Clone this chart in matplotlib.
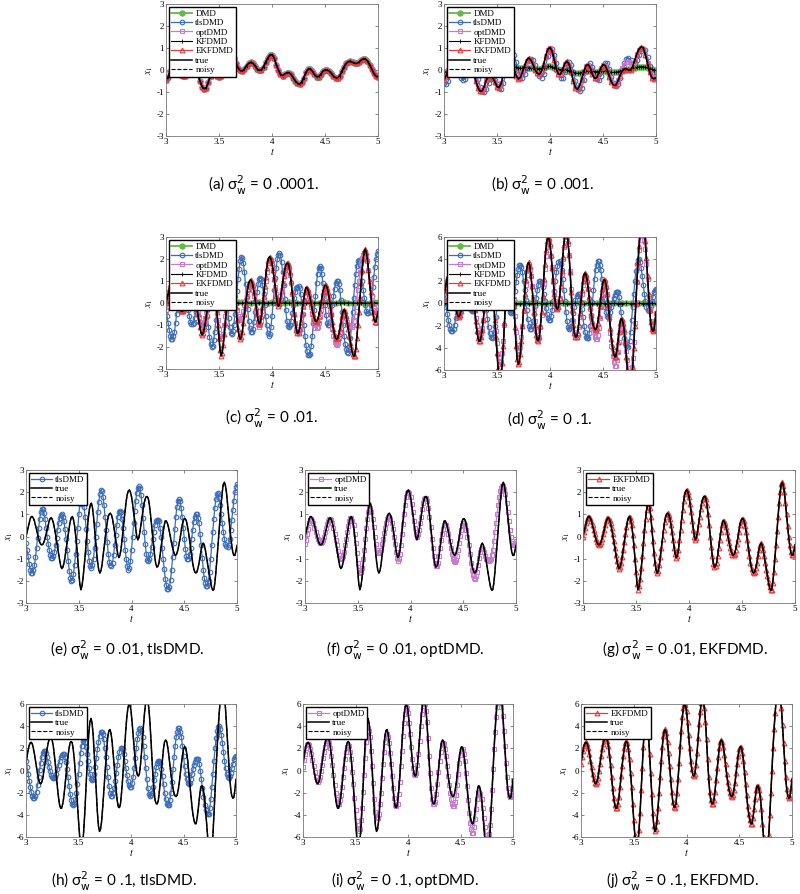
import numpy as np
import matplotlib
matplotlib.use("Agg")
import matplotlib.pyplot as plt

W, H = 800, 894
fig = plt.figure(figsize=(W / 100, H / 100), dpi=100)

# time grids of the read-off samples
t = np.round(np.arange(3.0, 5.0001, 0.02), 2)
t_fine = np.round(np.arange(3.0, 5.0001, 0.01), 2)
t_flat = np.round(np.arange(3.0, 5.0001, 0.04), 2)

# sigma_w^2 = 0.0001  (on t)
true_a = [-0.45, -0.3, -0.05, 0.08, 0.05, -0.05, -0.15, -0.22, -0.25, -0.25,
          -0.2, -0.05, 0.1, 0.15, 0.05, -0.2, -0.5, -0.75, -0.85, -0.8,
          -0.55, -0.25, -0.12, -0.15, -0.25, -0.3, -0.25, -0.05, 0.2, 0.45,
          0.6, 0.65, 0.55, 0.3, 0.1, -0.02, -0.05, 0.05, 0.2, 0.3,
          0.35, 0.3, 0.2, 0.05, -0.02, 0.0, 0.15, 0.35, 0.55, 0.68,
          0.7, 0.55, 0.25, 0.0, -0.2, -0.25, -0.18, -0.12, -0.12, -0.2,
          -0.35, -0.5, -0.6, -0.65, -0.55, -0.35, -0.1, 0.03, 0.05, -0.05,
          -0.2, -0.3, -0.3, -0.2, -0.05, 0.0, 0.0, -0.05, -0.15, -0.28,
          -0.35, -0.35, -0.25, -0.05, 0.15, 0.3, 0.38, 0.4, 0.35, 0.3,
          0.3, 0.35, 0.45, 0.5, 0.5, 0.42, 0.25, 0.05, -0.15, -0.28,
          -0.3]

# sigma_w^2 = 0.001  (on t)
true_b = [-0.45, -0.25, 0.0, 0.1, 0.05, -0.05, -0.15, -0.2, -0.2, -0.1,
          0.05, 0.15, 0.2, 0.1, -0.15, -0.5, -0.8, -0.97, -0.95, -0.75,
          -0.45, -0.3, -0.28, -0.35, -0.55, -0.75, -0.8, -0.6, -0.2, 0.2,
          0.45, 0.5, 0.35, 0.05, -0.25, -0.4, -0.35, -0.1, 0.2, 0.45,
          0.55, 0.45, 0.25, 0.0, -0.15, -0.2, -0.05, 0.25, 0.65, 0.95,
          1.02, 0.85, 0.45, 0.05, -0.2, -0.2, 0.05, 0.3, 0.4, 0.25,
          -0.1, -0.5, -0.8, -0.88, -0.7, -0.4, -0.05, 0.2, 0.25, 0.1,
          -0.2, -0.38, -0.35, -0.15, 0.1, 0.25, 0.2, 0.0, -0.3, -0.55,
          -0.7, -0.7, -0.5, -0.25, -0.05, 0.05, 0.05, 0.0, 0.0, 0.15,
          0.45, 0.75, 0.95, 1.05, 1.0, 0.7, 0.3, -0.1, -0.35, -0.4,
          -0.35]
tls_b = [-0.6, -0.65, -0.5, -0.2, 0.0, 0.05, -0.05, -0.2, -0.35, -0.45,
         -0.4, -0.2, 0.05, 0.15, 0.1, -0.1, -0.4, -0.75, -0.95, -1.0,
         -0.85, -0.6, -0.4, -0.35, -0.45, -0.65, -0.82, -0.85, -0.6, -0.2,
         0.3, 0.7, 0.85, 0.7, 0.35, 0.0, -0.3, -0.35, -0.2, 0.1,
         0.4, 0.5, 0.45, 0.25, -0.05, -0.25, -0.35, -0.2, 0.2, 0.65,
         0.9, 0.95, 0.7, 0.3, -0.1, -0.35, -0.35, -0.1, 0.2, 0.35,
         0.25, -0.1, -0.5, -0.85, -0.95, -0.8, -0.45, -0.05, 0.25, 0.3,
         0.15, -0.15, -0.4, -0.45, -0.25, 0.05, 0.3, 0.3, 0.05, -0.3,
         -0.6, -0.72, -0.65, -0.35, 0.0, 0.3, 0.5, 0.55, 0.45, 0.3,
         0.3, 0.45, 0.7, 0.85, 0.95, 0.9, 0.6, 0.2, -0.15, -0.3,
         -0.25]
opt_b = [-0.4, -0.2, 0.0, 0.1, 0.05, -0.05, -0.15, -0.22, -0.22, -0.12,
         0.03, 0.13, 0.18, 0.1, -0.15, -0.48, -0.78, -0.95, -0.93, -0.75,
         -0.47, -0.32, -0.3, -0.37, -0.55, -0.73, -0.78, -0.6, -0.22, 0.18,
         0.43, 0.48, 0.35, 0.05, -0.23, -0.38, -0.33, -0.1, 0.18, 0.42,
         0.52, 0.43, 0.23, 0.0, -0.15, -0.2, -0.05, 0.25, 0.62, 0.92,
         0.98, 0.82, 0.45, 0.05, -0.18, -0.2, 0.05, 0.28, 0.38, 0.25,
         -0.1, -0.48, -0.78, -0.86, -0.7, -0.4, -0.07, 0.18, 0.23, 0.1,
         -0.18, -0.36, -0.35, -0.15, 0.08, 0.22, 0.18, 0.0, -0.28, -0.52,
         -0.66, -0.65, -0.45, -0.15, 0.1, 0.25, 0.35, 0.38, 0.3, 0.25,
         0.45, 0.72, 0.92, 1.0, 0.97, 0.7, 0.3, -0.08, -0.32, -0.38,
         -0.33]
dmd_b = [-0.1, -0.08, -0.05, -0.03, -0.03, -0.05, -0.07, -0.08, -0.08, -0.07,
         -0.05, -0.05, -0.07, -0.1, -0.14, -0.18, -0.2, -0.21, -0.2, -0.18,
         -0.16, -0.15, -0.15, -0.15, -0.14, -0.12, -0.08, -0.03, 0.03, 0.08,
         0.12, 0.15, 0.15, 0.14, 0.12, 0.1, 0.08, 0.08, 0.09, 0.1,
         0.1, 0.1, 0.08, 0.06, 0.05, 0.06, 0.08, 0.11, 0.14, 0.16,
         0.16, 0.14, 0.1, 0.06, 0.03, 0.02, 0.02, 0.02, 0.0, -0.03,
         -0.07, -0.11, -0.14, -0.15, -0.14, -0.11, -0.08, -0.06, -0.05, -0.05,
         -0.06, -0.07, -0.07, -0.06, -0.05, -0.05, -0.06, -0.08, -0.1, -0.11,
         -0.11, -0.1, -0.08, -0.05, -0.02, 0.0, 0.02, 0.03, 0.05, 0.07,
         0.1, 0.12, 0.14, 0.15, 0.15, 0.13, 0.1, 0.06, 0.03, 0.0,
         -0.02]

# sigma_w^2 = 0.01  (on t_fine)
true_c = [0.0, 0.2, 0.4, 0.62, 0.8, 0.9, 0.9, 0.82, 0.7, 0.5,
          0.3, 0.1, -0.1, -0.26, -0.35, -0.38, -0.35, -0.25, -0.1, 0.1,
          0.3, 0.52, 0.7, 0.82, 0.85, 0.76, 0.6, 0.37, 0.1, -0.2,
          -0.5, -0.82, -1.1, -1.35, -1.45, -1.38, -1.2, -0.92, -0.6, -0.25,
          0.1, 0.42, 0.7, 0.86, 0.9, 0.76, 0.5, 0.08, -0.4, -1.0,
          -1.6, -2.15, -2.4, -2.25, -1.9, -1.42, -0.9, -0.3, 0.3, 0.8,
          1.2, 1.45, 1.5, 1.3, 0.9, 0.35, -0.2, -0.75, -1.2, -1.52,
          -1.65, -1.55, -1.3, -0.92, -0.5, -0.1, 0.3, 0.65, 0.9, 1.02,
          1.05, 0.97, 0.8, 0.52, 0.2, -0.16, -0.5, -0.8, -0.95, -0.86,
          -0.6, -0.18, 0.3, 0.76, 1.2, 1.6, 1.9, 2.06, 2.1, 2.0,
          1.8, 1.48, 1.1, 0.68, 0.3, 0.0, -0.15, -0.05, 0.2, 0.55,
          0.9, 1.22, 1.5, 1.7, 1.8, 1.8, 1.7, 1.4, 1.0, 0.52,
          0.0, -0.48, -0.9, -1.22, -1.38, -1.35, -1.2, -0.88, -0.5, -0.14,
          0.2, 0.5, 0.7, 0.7, 0.6, 0.42, 0.2, -0.05, -0.3, -0.52,
          -0.7, -0.82, -0.85, -0.77, -0.6, -0.36, -0.1, 0.2, 0.5, 0.7,
          0.8, 0.8, 0.7, 0.48, 0.2, -0.15, -0.5, -0.86, -1.2, -1.45,
          -1.6, -1.65, -1.6, -1.43, -1.2, -0.9, -0.6, -0.38, -0.3, -0.38,
          -0.6, -0.9, -1.2, -1.5, -1.8, -2.07, -2.3, -2.42, -2.4, -2.1,
          -1.6, -1.02, -0.4, 0.25, 0.9, 1.5, 2.0, 2.35, 2.45, 2.3,
          2.0, 1.52, 1.0, 0.48, 0.0, -0.4, -0.7, -0.85, -0.85, -0.65,
          -0.4]
tls_c = [-0.3, -0.6, -0.9, -1.22, -1.5, -1.65, -1.65, -1.52, -1.3, -0.93,
         -0.5, -0.05, 0.4, 0.8, 1.1, 1.25, 1.25, 1.08, 0.8, 0.4,
         0.0, -0.32, -0.6, -0.85, -0.97, -0.97, -0.9, -0.68, -0.4, -0.05,
         0.3, 0.6, 0.85, 0.98, 1.0, 0.9, 0.7, 0.32, -0.1, -0.6,
         -1.1, -1.55, -1.85, -2.0, -1.95, -1.7, -1.3, -0.78, -0.2, 0.4,
         1.0, 1.48, 1.8, 1.85, 1.7, 1.35, 0.9, 0.35, -0.2, -0.7,
         -1.1, -1.35, -1.4, -1.28, -1.0, -0.52, 0.0, 0.56, 1.1, 1.56,
         1.9, 2.08, 2.05, 1.8, 1.4, 0.87, 0.3, -0.27, -0.8, -1.15,
         -1.3, -1.32, -1.2, -0.85, -0.4, 0.06, 0.5, 0.88, 1.1, 1.15,
         1.1, 0.8, 0.4, -0.1, -0.6, -1.02, -1.35, -1.5, -1.42, -1.1,
         -0.6, 0.0, 0.6, 1.15, 1.6, 1.98, 2.2, 2.27, 2.2, 1.88,
         1.4, 0.82, 0.2, -0.34, -0.8, -1.05, -1.1, -1.0, -0.8, -0.46,
         -0.1, 0.22, 0.5, 0.68, 0.75, 0.76, 0.7, 0.4, 0.0, -0.5,
         -1.0, -1.48, -1.9, -2.2, -2.35, -2.38, -2.3, -1.95, -1.5, -0.92,
         -0.3, 0.32, 0.9, 1.32, 1.6, 1.68, 1.6, 1.3, 0.9, 0.4,
         -0.1, -0.55, -0.9, -1.02, -1.0, -0.8, -0.5, -0.1, 0.3, 0.65,
         0.9, 1.0, 1.0, 0.85, 0.6, 0.12, -0.4, -0.98, -1.5, -1.88,
         -2.1, -2.23, -2.25, -2.0, -1.6, -1.02, -0.4, 0.22, 0.8, 1.3,
         1.7, 1.9, 1.95, 1.72, 1.4, 1.0, 0.6, 0.22, -0.1, -0.35,
         -0.45, -0.47, -0.4, -0.1, 0.3, 0.75, 1.2, 1.62, 2.0, 2.22,
         2.35]
opt_c = [-0.35, -0.15, 0.1, 0.36, 0.6, 0.75, 0.8, 0.72, 0.6, 0.4,
         0.2, 0.03, -0.1, -0.22, -0.3, -0.3, -0.25, -0.14, 0.0, 0.2,
         0.4, 0.57, 0.7, 0.78, 0.8, 0.73, 0.6, 0.37, 0.1, -0.15,
         -0.4, -0.65, -0.85, -0.97, -1.0, -0.97, -0.9, -0.68, -0.4, -0.1,
         0.2, 0.47, 0.7, 0.82, 0.85, 0.72, 0.5, 0.12, -0.3, -0.76,
         -1.2, -1.52, -1.65, -1.6, -1.4, -1.02, -0.6, -0.1, 0.4, 0.8,
         1.1, 1.27, 1.3, 1.1, 0.8, 0.42, 0.0, -0.33, -0.6, -0.72,
         -0.75, -0.7, -0.6, -0.36, -0.1, 0.15, 0.4, 0.62, 0.8, 0.88,
         0.9, 0.78, 0.6, 0.32, 0.0, -0.36, -0.7, -0.95, -1.1, -1.02,
         -0.8, -0.38, 0.1, 0.55, 1.0, 1.42, 1.8, 1.96, 2.0, 1.94,
         1.8, 1.48, 1.1, 0.72, 0.4, 0.12, 0.0, 0.1, 0.3, 0.6,
         0.9, 1.22, 1.5, 1.68, 1.75, 1.72, 1.6, 1.28, 0.9, 0.42,
         -0.1, -0.52, -0.9, -1.2, -1.35, -1.32, -1.2, -0.88, -0.5, -0.18,
         0.1, 0.33, 0.5, 0.53, 0.5, 0.32, 0.1, -0.2, -0.5, -0.78,
         -1.0, -1.12, -1.15, -1.07, -0.9, -0.62, -0.3, 0.02, 0.3, 0.5,
         0.6, 0.6, 0.5, 0.28, 0.0, -0.4, -0.8, -1.18, -1.5, -1.75,
         -1.88, -1.9, -1.8, -1.58, -1.3, -0.98, -0.7, -0.55, -0.5, -0.58,
         -0.7, -0.86, -1.0, -1.08, -1.1, -1.07, -1.0, -0.83, -0.6, -0.2,
         0.2, 0.6, 1.0, 1.42, 1.8, 2.05, 2.2, 2.28, 2.3, 2.15,
         1.9, 1.52, 1.1, 0.7, 0.3, -0.03, -0.3, -0.4, -0.4, -0.32,
         -0.2]
dmd_c = [0.02, 0.03, 0.03, 0.02, 0.02, 0.03, 0.03, 0.02, 0.02, 0.03,
         0.03, 0.02, 0.02, 0.03, 0.03, 0.02, 0.02, 0.03, 0.03, 0.02,
         0.02, 0.03, 0.03, 0.02, 0.02, 0.03, 0.03, 0.02, 0.02, 0.03,
         0.03, 0.02, 0.02, 0.03, 0.03, 0.02, 0.02, 0.03, 0.03, 0.02,
         0.02, 0.03, 0.03, 0.02, 0.02, 0.03, 0.03, 0.02, 0.02, 0.03,
         0.03]
kf_c = [0.0, 0.01, 0.0, 0.0, 0.01, 0.0, 0.0, 0.01, 0.0, 0.0,
        0.01, 0.0, 0.0, 0.01, 0.0, 0.0, 0.01, 0.0, 0.0, 0.01,
        0.0, 0.0, 0.01, 0.0, 0.0, 0.01, 0.0, 0.0, 0.01, 0.0,
        0.0, 0.01, 0.0, 0.0, 0.01, 0.0, 0.0, 0.01, 0.0, 0.0,
        0.01, 0.0, 0.0, 0.01, 0.0, 0.0, 0.01, 0.0, 0.0, 0.01,
        0.0]

# sigma_w^2 = 0.1  (on t_fine)
true_d = [0.6, 1.25, 1.8, 2.25, 2.5, 2.55, 2.4, 2.0, 1.5, 0.9,
          0.3, -0.3, -0.8, -1.1, -1.2, -1.05, -0.7, -0.08, 0.6, 1.28,
          1.9, 2.42, 2.8, 3.0, 3.0, 2.7, 2.2, 1.4, 0.5, -0.55,
          -1.6, -2.45, -3.1, -3.4, -3.4, -3.0, -2.4, -1.5, -0.5, 0.45,
          1.3, 2.0, 2.5, 2.62, 2.5, 1.9, 1.0, -0.2, -1.5, -3.0,
          -4.5, -5.8, -6.8, -7.0, -6.6, -5.4, -3.8, -1.8, 0.2, 2.1,
          3.6, 4.45, 4.7, 4.2, 3.2, 1.5, -0.2, -2.1, -3.8, -5.0,
          -5.5, -5.3, -4.6, -3.4, -2.0, -0.55, 0.9, 2.1, 3.1, 3.6,
          3.7, 3.35, 2.6, 1.55, 0.4, -0.8, -1.9, -2.8, -3.3, -3.35,
          -3.0, -2.0, -0.8, 0.7, 2.2, 3.6, 4.8, 5.6, 6.0, 5.9,
          5.4, 4.4, 3.2, 2.0, 0.9, 0.1, -0.4, -0.5, -0.3, 0.5,
          1.6, 2.9, 4.2, 5.3, 6.1, 6.4, 6.3, 5.6, 4.4, 2.8,
          1.0, -0.6, -1.9, -2.7, -3.0, -3.0, -2.7, -1.9, -0.9, 0.2,
          1.2, 2.0, 2.6, 2.75, 2.6, 2.1, 1.4, 0.55, -0.3, -1.0,
          -1.6, -2.05, -2.3, -2.35, -2.2, -1.75, -1.1, -0.25, 0.6, 1.35,
          1.9, 2.15, 2.1, 1.6, 0.9, -0.1, -1.2, -2.25, -3.2, -3.95,
          -4.5, -4.8, -4.8, -4.3, -3.5, -2.6, -1.8, -1.4, -1.4, -1.8,
          -2.4, -3.5, -4.8, -6.0, -7.0, -7.5, -7.5, -6.9, -5.8, -4.0,
          -2.0, 0.0, 2.0, 3.7, 5.2, 6.3, 7.0, 7.3, 7.2, 6.6,
          5.6, 4.1, 2.5, 0.9, -0.6, -1.7, -2.3, -2.5, -2.4, -1.7,
          -0.8]
tls_d = [0.9, 0.3, -0.3, -0.92, -1.5, -1.98, -2.3, -2.48, -2.5, -2.3,
         -1.9, -1.3, -0.6, 0.08, 0.7, 1.2, 1.6, 1.8, 1.8, 1.55,
         1.2, 0.75, 0.3, -0.08, -0.4, -0.62, -0.7, -0.7, -0.6, -0.28,
         0.1, 0.52, 0.9, 1.2, 1.4, 1.5, 1.5, 1.2, 0.8, 0.12,
         -0.6, -1.38, -2.1, -2.65, -3.0, -3.1, -3.0, -2.6, -2.0, -1.2,
         -0.3, 0.7, 1.6, 2.25, 2.7, 2.8, 2.6, 2.1, 1.5, 0.85,
         0.2, -0.35, -0.8, -0.9, -0.8, -0.3, 0.3, 1.1, 1.9, 2.55,
         3.1, 3.45, 3.5, 3.25, 2.8, 2.05, 1.2, 0.3, -0.6, -1.4,
         -2.0, -2.3, -2.3, -2.0, -1.6, -0.95, -0.2, 0.52, 1.2, 1.7,
         2.0, 2.05, 1.9, 1.45, 0.9, 0.25, -0.4, -0.95, -1.3, -1.5,
         -1.5, -1.15, -0.6, 0.25, 1.1, 2.0, 2.8, 3.35, 3.7, 3.8,
         3.6, 3.0, 2.2, 1.2, 0.2, -0.75, -1.6, -2.1, -2.3, -2.25,
         -2.0, -1.5, -0.9, -0.3, 0.3, 0.7, 0.9, 0.9, 0.7, 0.15,
         -0.5, -1.25, -2.0, -2.6, -3.0, -3.15, -3.1, -2.7, -2.0, -1.0,
         0.1, 1.2, 2.2, 3.0, 3.5, 3.8, 3.8, 3.5, 3.0, 2.2,
         1.3, 0.45, -0.3, -0.8, -1.1, -1.2, -1.1, -0.75, -0.3, 0.12,
         0.5, 0.8, 1.0, 1.05, 1.0, 0.6, 0.0, -0.8, -1.6, -2.4,
         -3.1, -3.55, -3.8, -3.95, -3.9, -3.4, -2.6, -1.5, -0.3, 0.9,
         2.0, 2.9, 3.6, 3.95, 4.0, 3.7, 3.2, 2.5, 1.7, 0.9,
         0.2, -0.3, -0.6, -0.65, -0.5, -0.2, 0.2, 0.6, 1.0, 1.2,
         1.3]
opt_d = [0.3, 0.95, 1.5, 2.0, 2.3, 2.4, 2.3, 1.95, 1.5, 0.95,
         0.4, -0.15, -0.6, -0.9, -1.0, -0.88, -0.6, -0.05, 0.5, 1.12,
         1.7, 2.15, 2.5, 2.68, 2.7, 2.45, 2.0, 1.3, 0.5, -0.4,
         -1.3, -2.05, -2.6, -2.95, -3.0, -2.7, -2.2, -1.45, -0.6, 0.25,
         1.0, 1.65, 2.1, 2.28, 2.2, 1.7, 1.0, -0.1, -1.2, -2.45,
         -3.6, -4.55, -5.2, -5.45, -5.3, -4.5, -3.4, -1.9, -0.4, 1.15,
         2.6, 3.5, 3.8, 3.6, 3.0, 1.8, 0.4, -1.1, -2.6, -3.7,
         -4.2, -4.25, -3.9, -3.05, -2.0, -0.7, 0.6, 1.7, 2.6, 3.15,
         3.3, 3.05, 2.5, 1.6, 0.6, -0.5, -1.6, -2.5, -3.1, -3.2,
         -3.0, -2.1, -1.0, 0.4, 1.8, 3.1, 4.3, 5.1, 5.6, 5.6,
         5.2, 4.3, 3.3, 2.1, 1.0, 0.2, -0.3, -0.4, -0.2, 0.5,
         1.5, 2.7, 4.0, 5.1, 5.8, 6.1, 6.0, 5.4, 4.4, 2.9,
         1.3, -0.2, -1.6, -2.55, -3.0, -3.05, -2.8, -2.1, -1.2, -0.15,
         0.9, 1.7, 2.3, 2.5, 2.4, 1.95, 1.3, 0.4, -0.5, -1.3,
         -2.0, -2.6, -3.0, -3.2, -3.2, -2.8, -2.2, -1.3, -0.3, 0.65,
         1.4, 1.8, 1.9, 1.5, 0.9, -0.2, -1.4, -2.65, -3.8, -4.7,
         -5.3, -5.6, -5.6, -5.1, -4.4, -3.5, -2.6, -2.05, -1.9, -2.1,
         -2.6, -3.4, -4.3, -5.1, -5.8, -6.2, -6.2, -5.7, -4.9, -3.5,
         -1.8, 0.1, 1.9, 3.5, 4.8, 5.7, 6.2, 6.35, 6.2, 5.7,
         4.9, 3.6, 2.2, 0.7, -0.6, -1.6, -2.2, -2.4, -2.3, -1.7,
         -0.9]

C_DMD = '#63b946'
C_TLS = '#3b6cb7'
C_OPT = '#c47ccd'
C_EKF = '#e8393c'

STY = {
    'DMD': dict(color=C_DMD, marker='o', ms=3.6, mfc=C_DMD, mec=C_DMD, lw=1.3),
    'tlsDMD': dict(color=C_TLS, marker='o', ms=3.3, mfc='none', mew=0.8, lw=0.9),
    'optDMD': dict(color=C_OPT, marker='s', ms=3.3, mfc='none', mew=0.8, lw=0.9),
    'KFDMD': dict(color='k', marker='+', ms=3.5, mew=0.6, lw=0.8),
    'EKFDMD': dict(color=C_EKF, marker='^', ms=3.4, mfc='none', mew=0.8, lw=0.9),
    'true': dict(color='k', lw=1.1),
    'noisy': dict(color='k', lw=0.8, ls='--'),
}


def box(x0, y0, x1, y1):
    return [x0 / W, 1 - y1 / H, (x1 - x0) / W, (y1 - y0) / H]


def style_axes(ax, lim):
    ax.set_xlim(3, 5)
    ax.set_ylim(-lim, lim)
    ax.set_xticks([3, 3.5, 4, 4.5, 5])
    ax.set_xticklabels(['3', '3.5', '4', '4.5', '5'])
    if lim == 3:
        yt = [-3, -2, -1, 0, 1, 2, 3]
    else:
        yt = [-6, -4, -2, 0, 2, 4, 6]
    ax.set_yticks(yt)
    ax.set_yticklabels([str(v) for v in yt])
    ax.tick_params(direction='in', top=True, right=True, length=2.5, width=0.5,
                   labelsize=6.5, pad=1.5, color='#555555')
    for lab in ax.get_xticklabels() + ax.get_yticklabels():
        lab.set_fontfamily('Liberation Serif')
    for s in ax.spines.values():
        s.set_linewidth(0.6)
        s.set_color('#777777')
    ax.set_xlabel('$t$', fontsize=7, labelpad=0, math_fontfamily='stix')
    ax.set_ylabel('$x_1$', fontsize=7, labelpad=1, math_fontfamily='stix')


def add_legend(ax):
    ax.legend(loc='upper left', prop={'family': 'Liberation Serif', 'size': 6.5},
              handlelength=2.3, labelspacing=0.12, borderpad=0.3, handletextpad=0.35,
              borderaxespad=0.3, fancybox=False, framealpha=1, edgecolor='k')


def caption(x, y, txt):
    fig.text(x / W, 1 - y / H, txt, ha='center', va='center', fontsize=11,
             family=['Lato', 'DejaVu Sans'], math_fontfamily='dejavusans')


def full_panel(pos, lim, tt, dmd, dmd_t, tls, opt, kf, kf_t, true):
    ax = fig.add_axes(box(*pos))
    ax.plot(dmd_t, dmd, label='DMD', **STY['DMD'])
    ax.plot(tt, tls, label='tlsDMD', **STY['tlsDMD'])
    ax.plot(tt, opt, label='optDMD', **STY['optDMD'])
    ax.plot(kf_t, kf, label='KFDMD', **STY['KFDMD'])
    ax.plot(tt, true, label='EKFDMD', **STY['EKFDMD'])
    ax.plot(tt, true, label='true', **STY['true'])
    ax.plot(tt, true, label='noisy', **STY['noisy'])
    style_axes(ax, lim)
    add_legend(ax)
    return ax


def single_panel(pos, lim, method, vals, true):
    ax = fig.add_axes(box(*pos))
    ax.plot(t_fine, vals, label=method, **STY[method])
    ax.plot(t_fine, true, label='true', **STY['true'])
    ax.plot(t_fine, true, label='noisy', **STY['noisy'])
    style_axes(ax, lim)
    add_legend(ax)
    return ax


full_panel((166, 4, 378, 136), 3, t, true_a, t, true_a, true_a, true_a, t, true_a)
full_panel((444, 4, 656, 136), 3, t, dmd_b, t, tls_b, opt_b, dmd_b, t, true_b)
full_panel((166, 237, 378, 369), 3, t_fine, dmd_c, t_flat, tls_c, opt_c, kf_c, t_flat, true_c)
full_panel((444, 237, 656, 370), 6, t_fine, dmd_c, t_flat, tls_d, opt_d, kf_c, t_flat, true_d)

single_panel((26, 470, 237, 603), 3, 'tlsDMD', tls_c, true_c)
single_panel((305, 470, 516, 603), 3, 'optDMD', opt_c, true_c)
single_panel((583, 470, 795, 603), 3, 'EKFDMD', true_c, true_c)
single_panel((26, 704, 236, 837), 6, 'tlsDMD', tls_d, true_d)
single_panel((303, 704, 513, 837), 6, 'optDMD', opt_d, true_d)
single_panel((581, 704, 792, 837), 6, 'EKFDMD', true_d, true_d)

sig = r'σ$_{\mathrm{w}}^{2}$'
caption(264, 185, '(a) ' + sig + ' = 0 .0001.')
caption(543, 185, '(b) ' + sig + ' = 0 .001.')
caption(272, 418, '(c) ' + sig + ' = 0 .01.')
caption(550, 420, '(d) ' + sig + ' = 0 .1.')
caption(127, 650, '(e) ' + sig + ' = 0 .01, tlsDMD.')
caption(405, 650, '(f) ' + sig + ' = 0 .01, optDMD.')
caption(685, 650, '(g) ' + sig + ' = 0 .01, EKFDMD.')
caption(124, 881, '(h) ' + sig + ' = 0 .1, tlsDMD.')
caption(405, 881, '(i) ' + sig + ' = 0 .1, optDMD.')
caption(683, 881, '(j) ' + sig + ' = 0 .1, EKFDMD.')

fig.savefig('out.png', dpi=100)
